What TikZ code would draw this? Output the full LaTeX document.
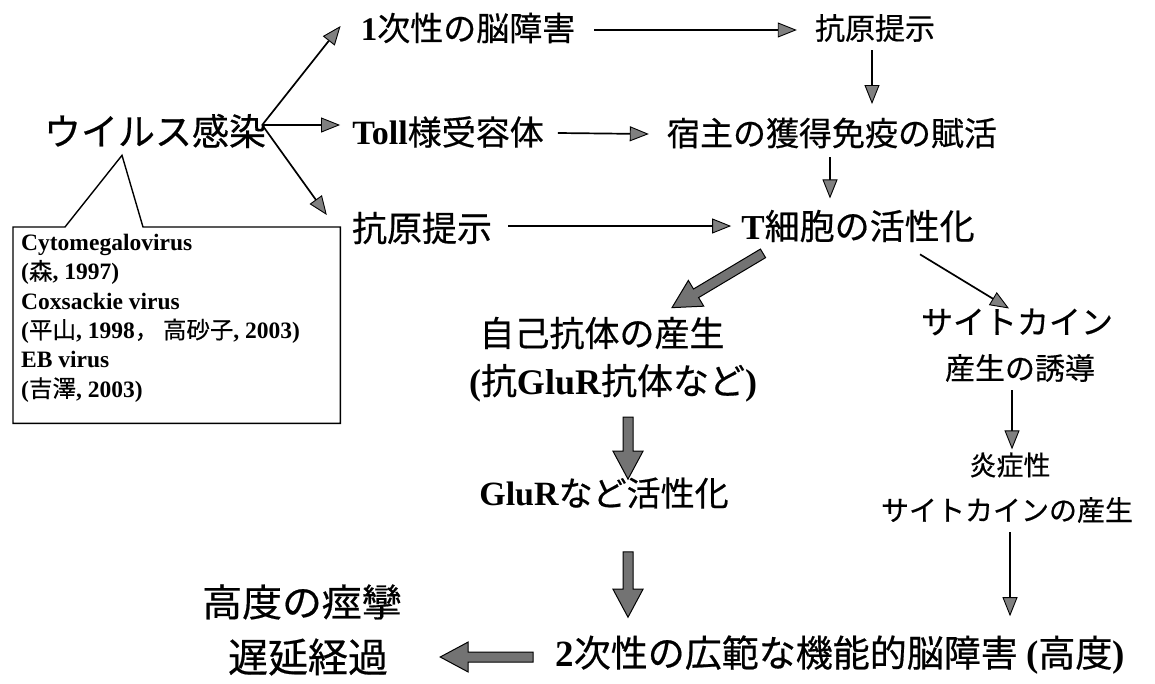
\documentclass[tikz,border=0pt]{standalone}
\usepackage{fontspec}
\setmainfont{Liberation Serif}
\newfontfamily\jp{Noto Sans CJK JP}[FakeBold=0.5]
\usetikzlibrary{arrows.meta,calc}
\newcommand\tb[1]{{\rmfamily\bfseries #1}}
\newcommand\fs[1]{\fontsize{#1}{#1}\selectfont}
\newcommand\jj[1]{{\jp\mdseries #1}}
\newcommand\fatarr[2]{%
  \coordinate (fa-h) at ($(#2)!28pt!(#1)$);
  \filldraw[fatarrow] ($(#1)!5pt!90:(#2)$) -- ($(fa-h)!5pt!-90:(#1)$) -- ($(fa-h)!15pt!-90:(#1)$) -- (#2)
    -- ($(fa-h)!15pt!90:(#1)$) -- ($(fa-h)!5pt!90:(#1)$) -- ($(#1)!5pt!-90:(#2)$) -- cycle;}
\tikzset{
  lbl/.style={inner sep=0pt, font=\jp},
  tarrow/.style={draw=black, line width=1.7pt, -{Triangle[length=19pt,width=15pt,fill=black!50,line width=0.9pt]}},
  fatarrow/.style={fill=black!55, draw=black, line width=1pt, line join=miter},
}
\begin{document}
\begin{tikzpicture}[x=1pt,y=-1pt]
\useasboundingbox (0,0) rectangle (1155,683);
% nodes
\node[lbl, font=\jp\fs{37}] (virus) at (155,131) {ウイルス感染};
\node[lbl, font=\jp\fs{33}] (p1) at (468,28) {\tb{1}次性の脳障害};
\node[lbl, font=\jp\fs{30}] (ag1) at (875,28) {抗原提示};
\node[lbl, font=\jp\fs{34}] (toll) at (448,132) {\tb{Toll}様受容体};
\node[lbl, font=\jp\fs{33}] (host) at (832,133) {宿主の獲得免疫の賦活};
\node[lbl, font=\jp\fs{35}] (ag2) at (422,228) {抗原提示};
\node[lbl, font=\jp\fs{35}] (tcell) at (858,226) {\tb{T}細胞の活性化};
\node[lbl, font=\jp\fs{35}] (auto1) at (602,333) {自己抗体の産生};
\node[lbl, font=\jp\fs{36}] (auto2) at (613,383) {\tb{(}抗\tb{GluR}抗体など\tb{)}};
\node[lbl, font=\jp\fs{32}] (cyto1) at (1017,322) {サイトカイン};
\node[lbl, font=\jp\fs{30}] (cyto2) at (1020,368) {産生の誘導};
\node[lbl, font=\jp\fs{34}] (glur) at (604,493) {\tb{GluR}など活性化};
\node[lbl, font=\jp\fs{27}] (inf1) at (1010,465) {炎症性};
\node[lbl, font=\jp\fs{28}] (inf2) at (1007,510) {サイトカインの産生};
\node[lbl, font=\jp\fs{38}, xscale=1.05] (sev1) at (302,602) {高度の痙攣};
\node[lbl, font=\jp\fs{40}] (sev2) at (308,657) {遅延経過};
\node[lbl, font=\jp\fs{37}] (sec) at (840,655) {\tb{2}次性の広範な機能的脳障害 \tb{(}高度\tb{)}};
% callout box
\node[inner sep=0pt, minimum width=327pt, minimum height=196pt, anchor=north west] (box) at (13,227) {};
\coordinate (apex) at ($(virus.south)+(-33,7)$);
\draw[line width=1.4pt, line join=miter] (box.north west) -- ($(box.north west)+(52,0)$) -- (apex)
  -- ($(box.north west)+(130,0)$) -- (box.north east) -- (box.south east) -- (box.south west) -- cycle;
\node[anchor=north west, inner sep=0pt, align=left, font=\rmfamily\bfseries\fontsize{23.5}{29.3}\selectfont] (refs)
  at ($(box.north west)+(8,7)$) {Cytomegalovirus\\(\jj{森}, 1997)\\Coxsackie virus\\(\jj{平山}, 1998\jj{，}\hspace{0.2em}\jj{高砂子}, 2003)\\EB virus\\(\jj{吉澤}, 2003)};
% thin arrows
\coordinate (fan) at ($(virus.east)+(-4,-6)$);
\draw[tarrow] (fan) -- ($(p1.west)+(-20,-2)$);
\draw[tarrow] (fan) -- ($(toll.west|-fan)+(-12,0)$);
\draw[tarrow] (fan) -- ($(ag2.west)+(-25,-13)$);
\draw[tarrow] ($(p1.east)+(19,2)$) -- ($(ag1.west)+(-18,2)$);
\draw[tarrow] ($(ag1.south)+(-3,8)$) -- ($(ag1.south)+(-3,62)$);
\draw[tarrow] ($(toll.east)+(14,1)$) -- ($(host.west)+(-18,1)$);
\draw[tarrow] ($(host.south)+(-2,9)$) -- ($(host.south)+(-2,50)$);
\draw[tarrow] ($(ag2.east)+(16,-2)$) -- ($(tcell.west)+(-10,0)$);
\draw[tarrow] ($(tcell.south)+(62,12)$) -- ($(cyto1.north)+(-8,0)$);
\draw[tarrow] ($(cyto2.south)+(-8,8)$) -- ($(inf1.north)+(2,-3)$);
\draw[tarrow] ($(inf2.south)+(3,9)$) -- ($(sec.north)+(170,-19)$);
% fat arrows
\coordinate (f1s) at ($(tcell.south)+(-95,11)$);
\coordinate (f1e) at ($(auto1.north)+(70,-9)$);
\fatarr{f1s}{f1e}
\coordinate (f2s) at ($(auto2.south)+(15,15)$);
\coordinate (f2e) at ($(glur.north)+(24,2)$);
\fatarr{f2s}{f2e}
\coordinate (f3s) at ($(glur.south)+(24,43)$);
\coordinate (f3e) at ($(sec.north)+(-212,-18)$);
\fatarr{f3s}{f3e}
\coordinate (f4s) at ($(sec.west)+(-22,2)$);
\coordinate (f4e) at ($(sev2.east)+(52,0)$);
\fatarr{f4s}{f4e}
\end{tikzpicture}
\end{document}
